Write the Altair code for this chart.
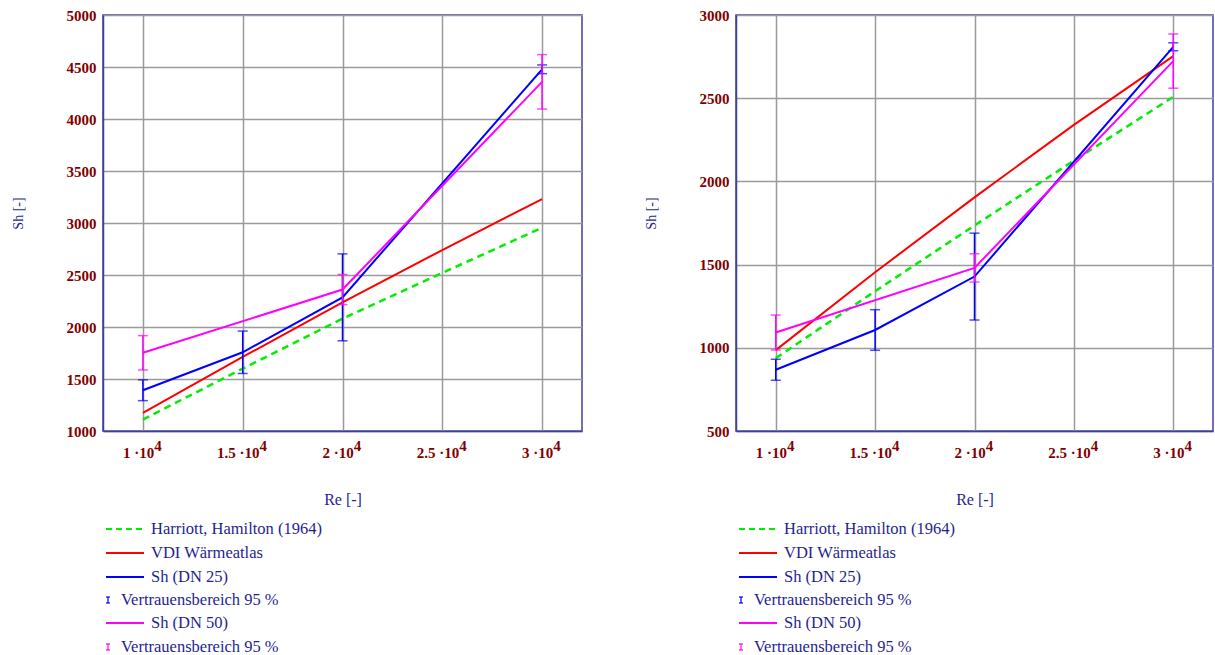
import altair as alt
import pandas as pd

# Reynolds numbers for the model curves and for the measurements
RE = [10000, 15000, 20000, 25000, 30000]
RE_DN25 = [10000, 15000, 20000, 30000]
RE_DN50 = [10000, 20000, 30000]
# tick labels of the Re axis: mantissa part and exponent
TICK_BASE = ["1 ·10", "1.5 ·10", "2 ·10", "2.5 ·10", "3 ·10"]
TICK_EXP = ["4", "4", "4", "4", "4"]

# left diagram
harriott_a = [1110, 1600, 2080, 2520, 2955]
vdi_a = [1175, 1712, 2237, 2740, 3230]
sh25_a = [1392, 1757, 2285, 4478]
ci25_a = [100, 204, 418, 42]
sh50_a = [1752, 2360, 4357]
ci50_a = [165, 145, 262]

# right diagram
harriott_b = [938, 1340, 1735, 2125, 2508]
vdi_b = [986, 1454, 1904, 2340, 2753]
sh25_b = [868, 1107, 1428, 2809]
ci25_b = [63, 122, 261, 24]
sh50_b = [1092, 1480, 2723]
ci50_b = [105, 85, 163]

LEGEND = ["Harriott, Hamilton (1964)", "VDI Wärmeatlas", "Sh (DN 25)",
          "Vertrauensbereich 95 %", "Sh (DN 50)", "Vertrauensbereich 95 %"]

GREEN, RED, BLUE, MAGENTA = "#00ee00", "#ff0000", "#0000ff", "#ff00ff"
NAVY = "#1f1f8f"
DARKRED = "#800000"
SERIF = "Liberation Serif, Times New Roman, Times, DejaVu Serif, serif"
LABEL_SIZE = 15

# approximate advance widths (em) of the bold serif face for the tick labels
EM = {".": 0.25, " ": 0.25, "·": 0.25}


def text_width(s, size):
    return sum(EM.get(ch, 0.5) for ch in s) * size


def panel(harriott, vdi, sh25, ci25, sh50, ci50, ymin, ymax, width, height=416):
    x_scale = alt.Scale(domain=[8000, 32000], nice=False, zero=False)
    x_axis = alt.Axis(values=RE, labels=False, title="Re [-]",
                      titleY=68, titleBaseline="middle", titleFontSize=16)
    y_scale = alt.Scale(domain=[ymin, ymax], nice=False, zero=False)
    y_axis = alt.Axis(values=list(range(ymin, ymax + 1, 500)), format="d",
                      title="Sh [-]", labelPadding=7, titleX=-85,
                      titleY=height / 2 - 10, titleAngle=270,
                      titleAlign="center", titleBaseline="middle",
                      titleFontSize=14)
    x_enc = alt.X("re:Q", scale=x_scale, axis=x_axis)

    def yq(field):
        return alt.Y(f"{field}:Q", scale=y_scale, axis=y_axis)

    def line(xs, ys, color, dash=None, width_=2):
        df = pd.DataFrame({"re": xs, "sh": ys})
        kw = dict(color=color, strokeWidth=width_)
        if dash:
            kw["strokeDash"] = dash
        return alt.Chart(df).mark_line(**kw).encode(x=x_enc, y=yq("sh"))

    def errors(xs, ys, cis, color):
        df = pd.DataFrame({"re": xs,
                           "lo": [v - c for v, c in zip(ys, cis)],
                           "hi": [v + c for v, c in zip(ys, cis)]})
        base = alt.Chart(df)
        bar = base.mark_rule(color=color, strokeWidth=1.5).encode(
            x=x_enc, y=yq("lo"), y2="hi:Q")
        lo = base.mark_tick(color=color, orient="horizontal", size=10,
                            thickness=1.5).encode(x=x_enc, y=yq("lo"))
        hi = base.mark_tick(color=color, orient="horizontal", size=10,
                            thickness=1.5).encode(x=x_enc, y=yq("hi"))
        return bar + lo + hi

    layers = [
        line(RE, harriott, GREEN, dash=[7, 5], width_=2.5),
        line(RE, vdi, RED),
        errors(RE_DN25, sh25, ci25, BLUE),
        line(RE_DN25, sh25, BLUE),
        errors(RE_DN50, sh50, ci50, MAGENTA),
        line(RE_DN50, sh50, MAGENTA),
    ]

    # Re tick labels with raised exponent, centred on the tick as a whole
    for re_val, base_txt, exp_txt in zip(RE, TICK_BASE, TICK_EXP):
        wb = text_width(base_txt, LABEL_SIZE)
        we = text_width(exp_txt, LABEL_SIZE)
        shift = (wb - we) / 2
        tick_df = pd.DataFrame({"re": [re_val]})
        common = dict(font=SERIF, fontSize=LABEL_SIZE, fontWeight="bold",
                      color=DARKRED, baseline="alphabetic")
        layers.append(alt.Chart(tick_df).mark_text(
            text=base_txt, align="right", dx=shift, **common).encode(
            x=x_enc, y=alt.value(height + 27)))
        layers.append(alt.Chart(tick_df).mark_text(
            text=exp_txt, align="left", dx=shift, **common).encode(
            x=x_enc, y=alt.value(height + 20)))

    # legend below the diagram
    one = pd.DataFrame({"k": [0]})
    rows = [height + 98, height + 122, height + 146, height + 169,
            height + 192, height + 216]
    samples = [(GREEN, [6, 4]), (RED, None), (BLUE, None),
               (BLUE, "err"), (MAGENTA, None), (MAGENTA, "err")]
    for text, yy, (color, kind) in zip(LEGEND, rows, samples):
        if kind == "err":
            layers.append(alt.Chart(one).mark_rule(color=color, strokeWidth=1.2).encode(
                x=alt.value(5), y=alt.value(yy - 3), y2=alt.value(yy + 3)))
            for cap in (yy - 3, yy + 3):
                layers.append(alt.Chart(one).mark_rule(color=color, strokeWidth=1.2).encode(
                    x=alt.value(3), x2=alt.value(7), y=alt.value(cap)))
            tx = 18
        else:
            kw = dict(color=color, strokeWidth=2)
            if kind:
                kw["strokeDash"] = kind
            layers.append(alt.Chart(one).mark_rule(**kw).encode(
                x=alt.value(3), x2=alt.value(41), y=alt.value(yy)))
            tx = 48
        layers.append(alt.Chart(one).mark_text(
            text=text, align="left", baseline="middle", font=SERIF,
            fontSize=16.5, color=NAVY).encode(x=alt.value(tx), y=alt.value(yy)))

    return alt.layer(*layers).properties(width=width, height=height)


left = panel(harriott_a, vdi_a, sh25_a, ci25_a, sh50_a, ci50_a, 1000, 5000, 479)
right = panel(harriott_b, vdi_b, sh25_b, ci25_b, sh50_b, ci50_b, 500, 3000, 477)

chart = (
    alt.hconcat(left, right, spacing=154, bounds="flush")
    .properties(padding={"left": 10, "top": 7, "right": 0, "bottom": 0},
                background="white")
    .configure_view(stroke="#404099", strokeWidth=1.5)
    .configure_axis(
        grid=True, gridColor="#9a9a9a", gridWidth=1.5,
        domainColor="#404099", domainWidth=1.5, ticks=False,
        labelFont=SERIF, labelFontWeight="bold", labelColor=DARKRED,
        labelFontSize=LABEL_SIZE, titleFont=SERIF, titleFontWeight="normal",
        titleColor=NAVY,
    )
)

chart.save("out.html", embed_options={"renderer": "svg", "actions": False})
